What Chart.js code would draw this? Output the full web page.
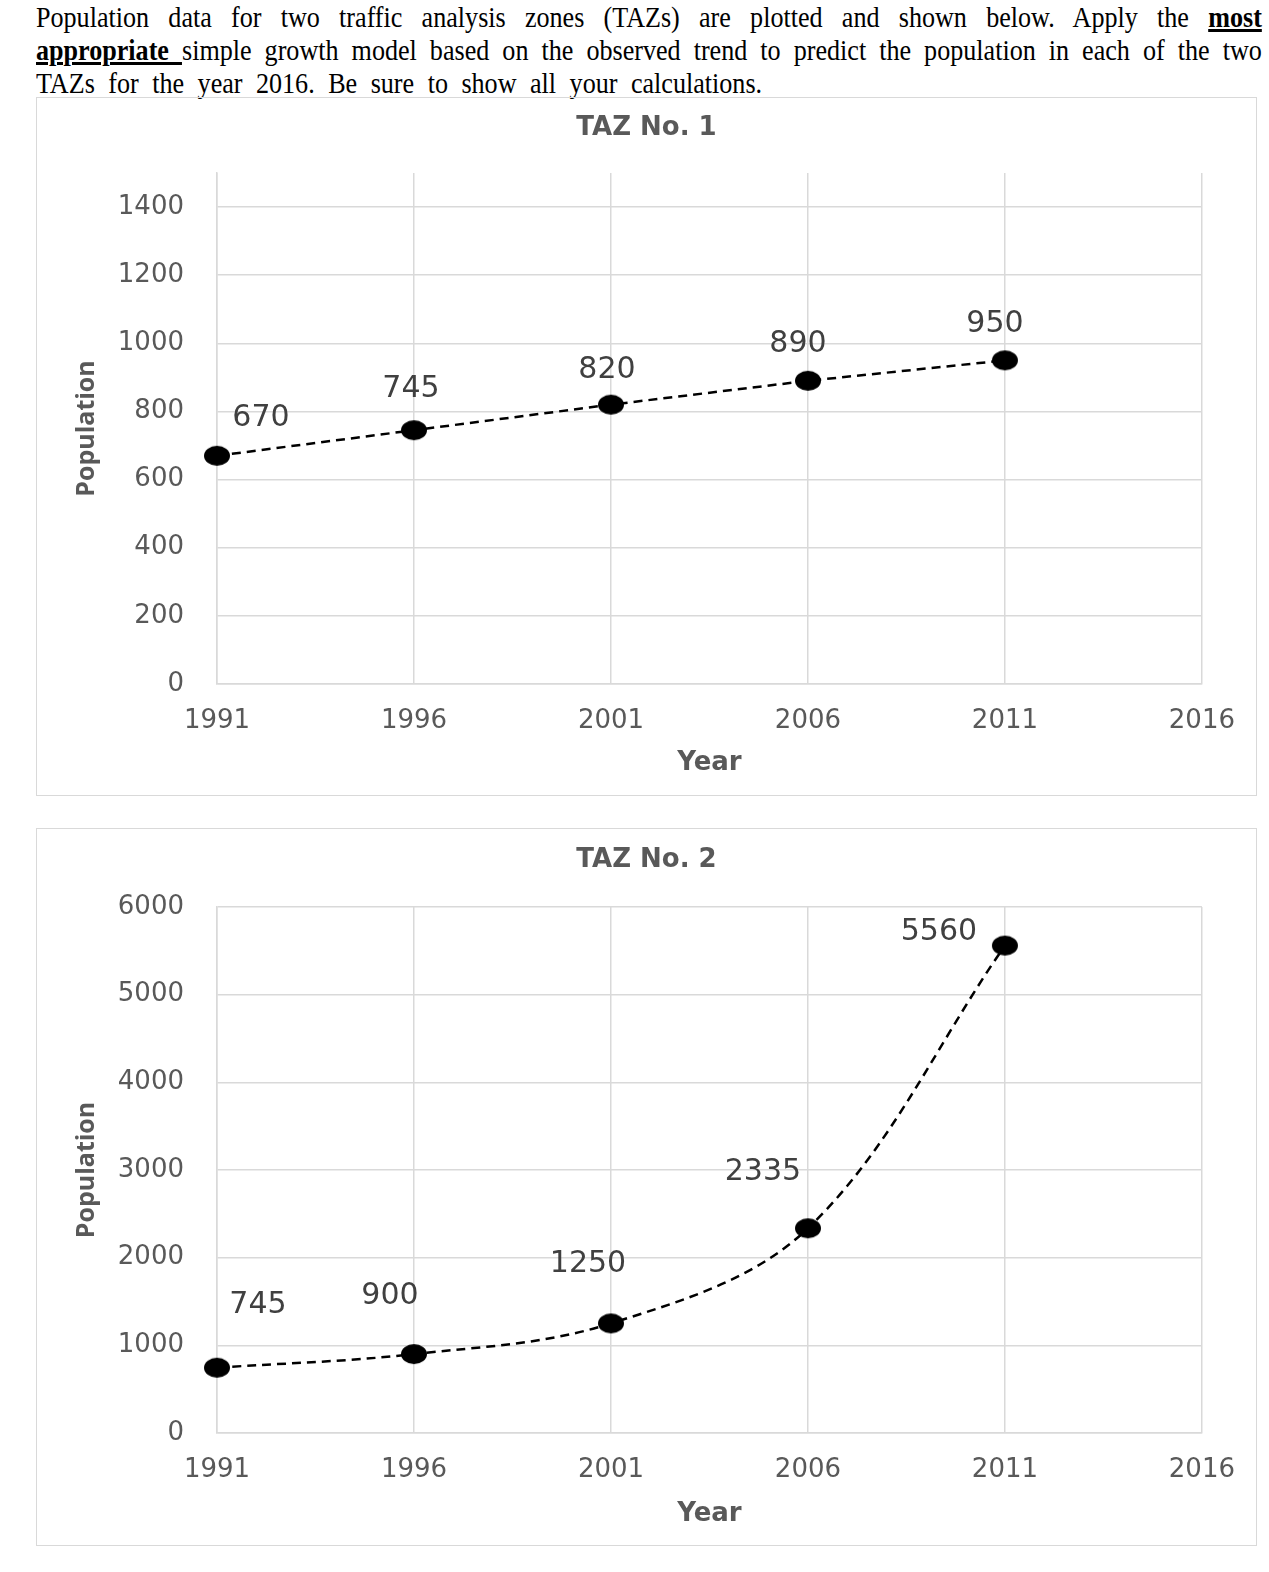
<!DOCTYPE html>
<html>
<head>
<meta charset="utf-8">
<script src="https://cdn.jsdelivr.net/npm/chart.js@4.4.1/dist/chart.umd.min.js"></script>
<style>
  body { margin: 0; background: #fff; width: 1269px; height: 1572px; position: relative; overflow: hidden; }
  .q { position: absolute; left: 36px; top: 0; width: 1409px; font-family: "Liberation Serif"; font-size: 30px; line-height: 33px; color: #000; transform: scaleX(0.87); transform-origin: 0 0; }
  .q div { white-space: nowrap; }
  .j { text-align: justify; text-align-last: justify; }
  .last { word-spacing: 8px; }
  .box { position: absolute; left: 36px; width: 1221px; border: 1px solid #d9d9d9; box-sizing: border-box; }
  canvas { position: absolute; left: 36px; }
</style>
</head>
<body>
<div class="q">
  <div class="j">Population data for two traffic analysis zones (TAZs) are plotted and shown below. Apply the <b><u>most</u></b></div>
  <div class="j"><b><u>appropriate </u></b>simple growth model based on the observed trend to predict the population in each of the two</div>
  <div class="last">TAZs for the year 2016. Be sure to show all your calculations.</div>
</div>

<div class="box" style="top:97px;height:699px"></div>
<div class="box" style="top:828px;height:718px"></div>
<canvas id="taz1" width="1221" height="698" style="top:97px"></canvas>
<canvas id="taz2" width="1221" height="715" style="top:828px"></canvas>

<script>
// ========================
// Daten
// ========================
const years = ['1991', '1996', '2001', '2006', '2011', '2016'];
const taz1Population = [670, 745, 820, 890, 950];
const taz2Population = [745, 900, 1250, 2335, 5560];

// Label-Versatz (px) je Punkt, nur Darstellung
const taz1LabelOffsets = [[44, -38], [-3, -41], [-4, -34], [-10, -37], [-10, -36]];
const taz2LabelOffsets = [[41, -62], [-24, -58], [-23, -59], [-45, -56], [-66, -13]];

const gridColor = '#d9d9d9';
const textColor = '#595959';

function dotImage() {
  const c = document.createElement('canvas');
  c.width = 28;
  c.height = 22;
  const g = c.getContext('2d');
  g.fillStyle = '#000';
  g.beginPath();
  g.ellipse(14, 11, 13, 10, 0, 0, Math.PI * 2);
  g.fill();
  return c;
}

// Datenbeschriftungen + zentrierter Titel über die ganze Box
const chartTexts = {
  id: 'chartTexts',
  afterDatasetsDraw(chart, args, opts) {
    const ctx = chart.ctx;
    const meta = chart.getDatasetMeta(0);
    const values = chart.data.datasets[0].data;
    ctx.save();
    ctx.font = '30px "DejaVu Sans"';
    ctx.fillStyle = '#404040';
    ctx.textAlign = 'center';
    ctx.textBaseline = 'middle';
    meta.data.forEach((pt, i) => {
      const off = opts.offsets[i];
      ctx.fillText(String(values[i]), pt.x + off[0], pt.y + off[1]);
    });
    ctx.font = 'bold 26px "DejaVu Sans"';
    ctx.fillStyle = textColor;
    ctx.fillText(opts.title, chart.width / 2, opts.titleY);
    ctx.restore();
  }
};

function makeChart(id, title, values, offsets, s) {
  return new Chart(document.getElementById(id), {
    type: 'line',
    data: {
      labels: years,
      datasets: [{
        data: values,
        borderColor: '#000',
        borderWidth: 2.5,
        borderDash: [9, 6],
        tension: s.tension,
        pointStyle: dotImage(),
        pointRadius: 11,
        pointHoverRadius: 11,
        fill: false
      }]
    },
    options: {
      responsive: false,
      animation: false,
      events: [],
      layout: { padding: { top: s.top, right: 54, bottom: 0, left: 0 } },
      plugins: {
        legend: { display: false },
        tooltip: { enabled: false },
        title: { display: false },
        chartTexts: { offsets, title, titleY: s.titleY }
      },
      scales: {
        x: {
          type: 'category',
          offset: false,
          grid: { color: gridColor, lineWidth: 1.5, drawTicks: false },
          border: { color: gridColor, width: 1.5 },
          ticks: { color: textColor, font: { family: 'DejaVu Sans', size: 26 }, padding: s.xPad, maxRotation: 0, autoSkip: false },
          title: { display: true, text: 'Year', color: textColor, font: { family: 'DejaVu Sans', size: 26, weight: 'bold' }, padding: { top: 0, bottom: s.yearPad } },
          afterFit(scale) { scale.height = s.xHeight; }
        },
        y: {
          min: 0,
          max: s.yMax,
          grid: { color: gridColor, lineWidth: 1.5, drawTicks: false },
          border: { color: gridColor, width: 1.5 },
          ticks: { stepSize: s.yStep, color: textColor, font: { family: 'DejaVu Sans', size: 26 }, padding: 33, callback: v => String(v) },
          title: { display: true, text: 'Population', color: textColor, font: { family: 'Open Sans', size: 25, weight: 'bold' }, padding: { top: 36, bottom: 0 } },
          afterBuildTicks(scale) { scale.ticks = scale.ticks.filter(t => t.value % s.yStep === 0); },
          afterFit(scale) { scale.width = 181; }
        }
      }
    },
    plugins: [chartTexts]
  });
}

makeChart('taz1', 'TAZ No. 1', taz1Population, taz1LabelOffsets,
  { tension: 0, yMax: 1500, yStep: 200, top: 76, titleY: 31, xPad: 22, xHeight: 111, yearPad: 16 });
makeChart('taz2', 'TAZ No. 2', taz2Population, taz2LabelOffsets,
  { tension: 0.35, yMax: 6000, yStep: 1000, top: 79, titleY: 32, xPad: 22, xHeight: 110, yearPad: 13 });
</script>
</body>
</html>
